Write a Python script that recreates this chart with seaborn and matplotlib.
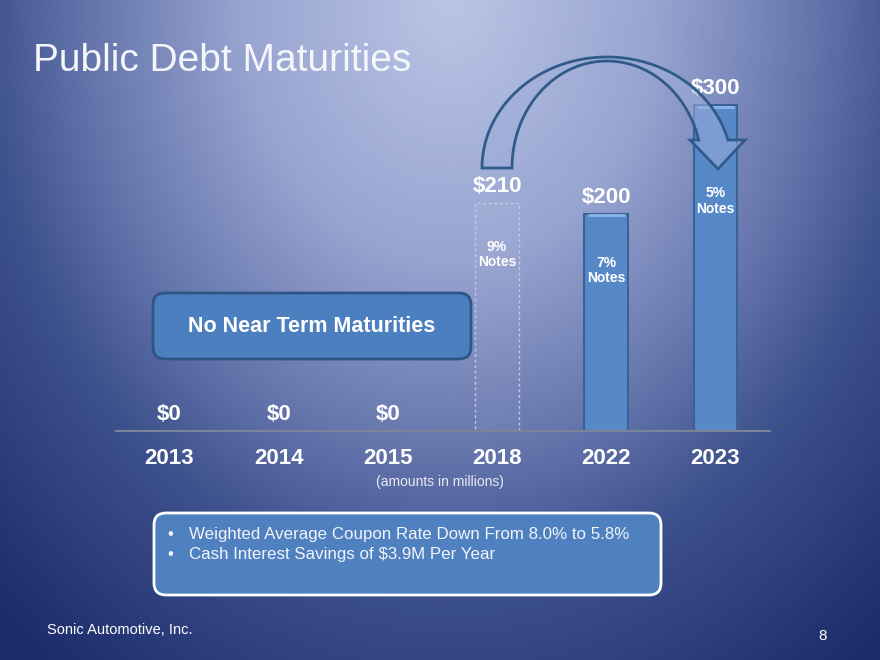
import numpy as np
import pandas as pd
import matplotlib
matplotlib.use('Agg')
import matplotlib.pyplot as plt
import seaborn as sns
from matplotlib.colors import LinearSegmentedColormap
from matplotlib.patches import FancyBboxPatch, Polygon

# Datos del gráfico
years = ['2013', '2014', '2015', '2018', '2022', '2023']
amounts = [0, 0, 0, 210, 200, 300]
notes = ['', '', '', '9%\nNotes', '7%\nNotes', '5%\nNotes']
bullets = ['Weighted Average Coupon Rate Down From 8.0% to 5.8%',
           'Cash Interest Savings of $3.9M Per Year']

df = pd.DataFrame({'year': years, 'amount': amounts})

sns.set_style('white')
plt.rcParams['font.family'] = ['Liberation Sans', 'DejaVu Sans']

fig = plt.figure(figsize=(8.8, 6.6), dpi=100)

# Fondo con degradado radial
bg = fig.add_axes([0, 0, 1, 1], zorder=0)
yy, xx = np.mgrid[0:660, 0:880]
r = np.sqrt(((xx - 450) / 520.0) ** 2 + ((yy - 0) / 650.0) ** 2)
cmap = LinearSegmentedColormap.from_list(
    'slide', [(0.0, '#bac5e5'), (0.4 / 1.3, '#97a4d0'), (0.7 / 1.3, '#6475ac'),
              (0.9 / 1.3, '#3d518c'), (1.0, '#1b2a6a')])
bg.imshow(np.clip(r / 1.3, 0, 1), cmap=cmap, vmin=0, vmax=1, extent=[0, 880, 660, 0], aspect='auto')
bg.axis('off')

# Ejes del gráfico de barras
ax = fig.add_axes([116 / 880, 229 / 660, 654 / 880, 391 / 660], zorder=1)
ax.set_facecolor('none')
sns.barplot(data=df, x='year', y='amount', ax=ax, width=0.4, color='#5789c9', saturation=1)
ax.set_xlim(-0.49, 5.5)
ax.set_ylim(0, 360)

for i, (bar, v) in enumerate(zip(ax.patches, amounts)):
    if v == 0:
        bar.set_visible(False)
    elif years[i] == '2018':
        bar.set_facecolor((1, 1, 1, 0.04))
        bar.set_edgecolor('#c3cbea')
        bar.set_linestyle((0, (2, 2)))
        bar.set_linewidth(1)
    else:
        bar.set_edgecolor('#3b6298')
        bar.set_linewidth(1.5)
        # reflejo claro en la parte superior
        x0 = bar.get_x()
        ax.plot([x0 + 0.03, x0 + bar.get_width() - 0.03], [v - 1.5, v - 1.5],
                color='#8fb4e6', linewidth=2, solid_capstyle='butt', zorder=3)

# Etiquetas de valores
for i, v in enumerate(amounts):
    ax.annotate(f'${v}', (i, v), xytext=(0, 12), textcoords='offset points',
                ha='center', va='center', fontsize=16, fontweight='bold', color='white')

note_offsets = [0, 0, 0, 37, 41, 69]
for i, (v, n) in enumerate(zip(amounts, notes)):
    if n:
        ax.annotate(n, (i, v), xytext=(0, -note_offsets[i]), textcoords='offset points',
                    ha='center', va='center', fontsize=10, fontweight='bold',
                    color='white', linespacing=1.1)

sns.despine(ax=ax, left=True, top=True, right=True)
ax.spines['bottom'].set_color('#7c8497')
ax.spines['bottom'].set_linewidth(1.5)
ax.set_xlabel('')
ax.set_ylabel('')
ax.set_yticks([])
ax.tick_params(axis='x', length=0, pad=12, labelsize=16, labelcolor='white')
for lbl in ax.get_xticklabels():
    lbl.set_fontweight('bold')

# Capa superior con textos, cajas y flecha
ov = fig.add_axes([0, 0, 1, 1], zorder=2)
ov.set_xlim(0, 880)
ov.set_ylim(660, 0)
ov.axis('off')
ov.set_facecolor('none')

ov.text(33, 61, 'Public Debt Maturities', fontsize=28, color='#f5f6fb', ha='left', va='center')

# Flecha curva
cx, cy = 607, 168
t_out = np.linspace(np.pi, np.arcsin(28 / 111), 80)
t_in = np.linspace(np.arcsin(28 / 107), np.pi, 80)
outer = np.column_stack([cx + 125 * np.cos(t_out), cy - 111 * np.sin(t_out)])
inner = np.column_stack([cx + 95 * np.cos(t_in), cy - 107 * np.sin(t_in)])
head = np.array([[745, 140], [718, 169], [690, 140]])
ov.add_patch(Polygon(np.vstack([outer, head, inner]), closed=True,
                     facecolor=(0.62, 0.68, 0.85, 0.55), edgecolor='#2f5a8a', linewidth=2))

# Caja "No Near Term Maturities"
ov.add_patch(FancyBboxPatch((153, 293), 318, 66, boxstyle='round,pad=0,rounding_size=12',
                            facecolor='#4b7fc0', edgecolor='#2f5586', linewidth=2))
ov.text(312, 327, 'No Near Term Maturities', fontsize=15.5, fontweight='bold',
        color='white', ha='center', va='center')

ov.text(440, 482, '(amounts in millions)', fontsize=10, color='#e6e9f5', ha='center', va='center')

# Caja de viñetas
ov.add_patch(FancyBboxPatch((154, 513), 507, 82, boxstyle='round,pad=0,rounding_size=12',
                            facecolor='#4f80bf', edgecolor='white', linewidth=2))
for k, b in enumerate(bullets):
    yb = 534 + k * 20
    ov.text(170, yb, '•', fontsize=12, color='#f2f4fa', ha='center', va='center')
    ov.text(189, yb, b, fontsize=12.2, color='#f2f4fa', ha='left', va='center')

ov.text(47, 630, 'Sonic Automotive, Inc.', fontsize=10.5, color='white', ha='left', va='center')
ov.text(823, 636, '8', fontsize=11, color='white', ha='center', va='center')

plt.savefig('out.png', dpi=100)
